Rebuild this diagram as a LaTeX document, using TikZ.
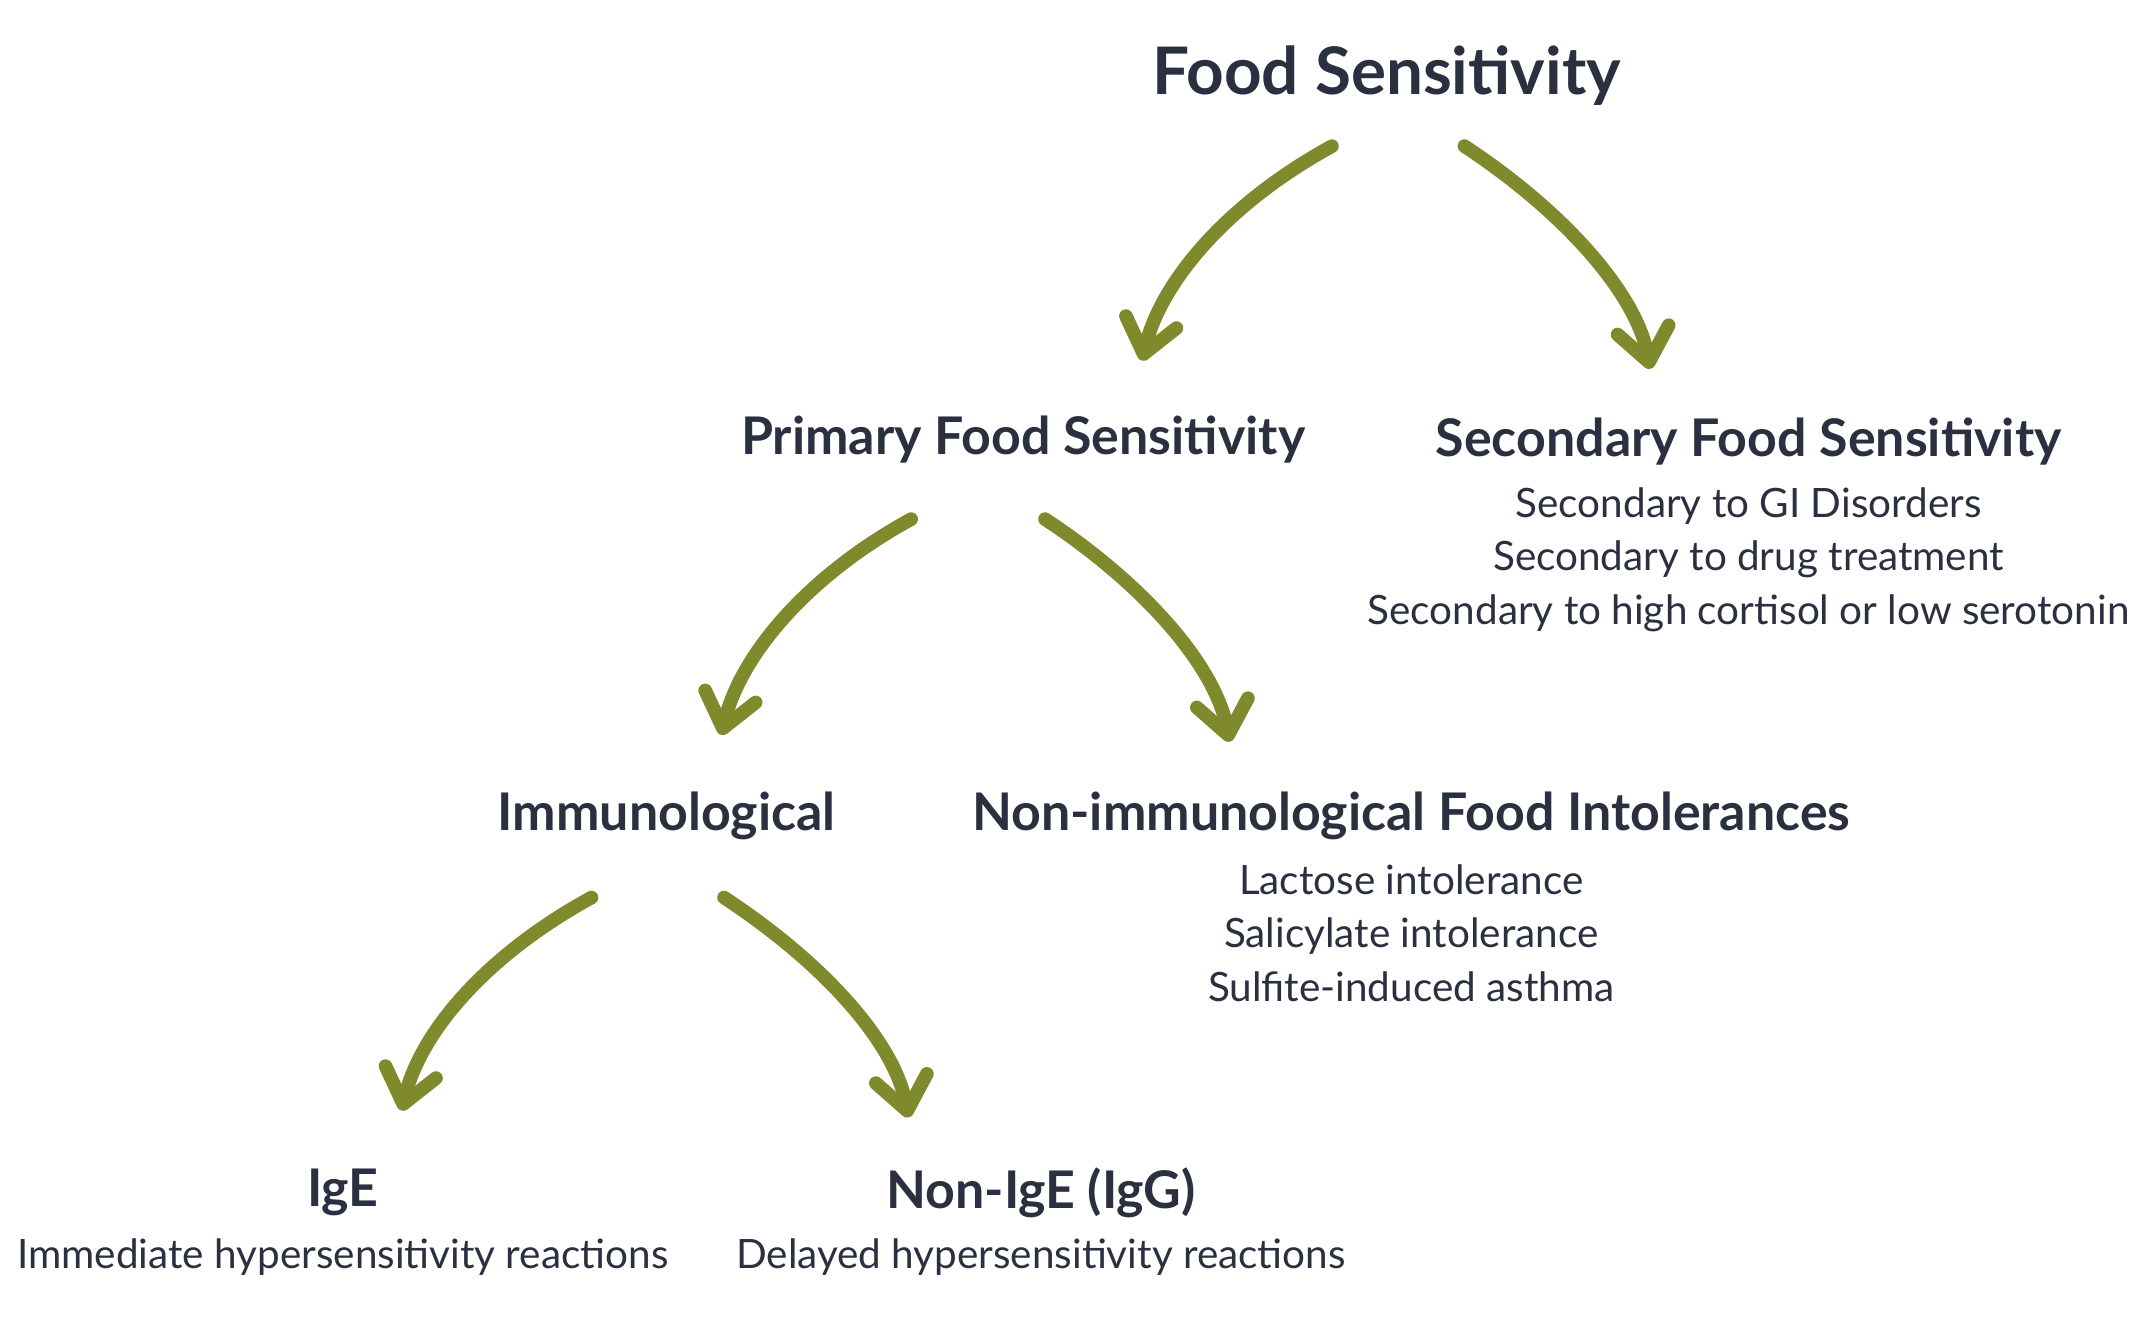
\documentclass[tikz,border=0pt]{standalone}
\usepackage{fontspec}
\setmainfont{Lato}
\usetikzlibrary{arrows.meta}
\definecolor{ink}{HTML}{2B3040}
\definecolor{olive}{HTML}{7F8A2C}
\begin{document}
\begin{tikzpicture}[x=0.5pt,y=-0.5pt,
  title/.style={font=\fontsize{24}{29}\selectfont\bfseries,text=ink},
  head/.style={font=\fontsize{19}{23}\selectfont\bfseries,text=ink},
  body/.style={font=\fontsize{14.8}{19.5}\selectfont,text=ink,align=center},
  arr/.style={olive,line width=5pt,line cap=round,-{Straight Barb[round,length=12pt,width=19pt,line width=5pt]}}]
\useasboundingbox (0,0) rectangle (1568,965);
\fill[white] (0,0) rectangle (1568,965);
\node[title] (fs) at (1015,55) {Food Sensitivity};
\node[head] (pfs) at (749,322) {Primary Food Sensitivity};
\node[head] (sfs) at (1280,323) {Secondary Food Sensitivity};
\node[body,anchor=north] (sfsl) at (1280,350) {Secondary to GI Disorders\\Secondary to drug treatment\\Secondary to high cortisol or low serotonin};
\node[head] (imm) at (488,597) {Immunological};
\node[head] (non) at (1033,597) {Non-immunological Food Intolerances};
\node[body,anchor=north] (nonl) at (1033,626) {Lactose intolerance\\Salicylate intolerance\\Sulfite-induced asthma};
\node[head] (ige) at (251,873) {IgE};
\node[body] (igel) at (251,920) {Immediate hypersensitivity reactions};
\node[head] (igg) at (762,873) {Non-IgE (IgG)};
\node[body] (iggl) at (762,920) {Delayed hypersensitivity reactions};
\coordinate (a1s) at (975,107); \coordinate (a1e) at (836,264);
\coordinate (a2s) at (1072,107); \coordinate (a2e) at (1208,270);
\coordinate (a3s) at (667,380); \coordinate (a3e) at (528,538);
\coordinate (a4s) at (765,380); \coordinate (a4e) at (900,543);
\coordinate (a5s) at (433,657); \coordinate (a5e) at (294,813);
\coordinate (a6s) at (530,657); \coordinate (a6e) at (665,818);
\draw[arr] (a1s) .. controls (900,148) and (850,205) .. (a1e);
\draw[arr] (a2s) .. controls (1145,155) and (1198,215) .. (a2e);
\draw[arr] (a3s) .. controls (592,421) and (542,479) .. (a3e);
\draw[arr] (a4s) .. controls (838,428) and (890,488) .. (a4e);
\draw[arr] (a5s) .. controls (358,698) and (308,754) .. (a5e);
\draw[arr] (a6s) .. controls (603,705) and (655,763) .. (a6e);
\end{tikzpicture}
\end{document}
